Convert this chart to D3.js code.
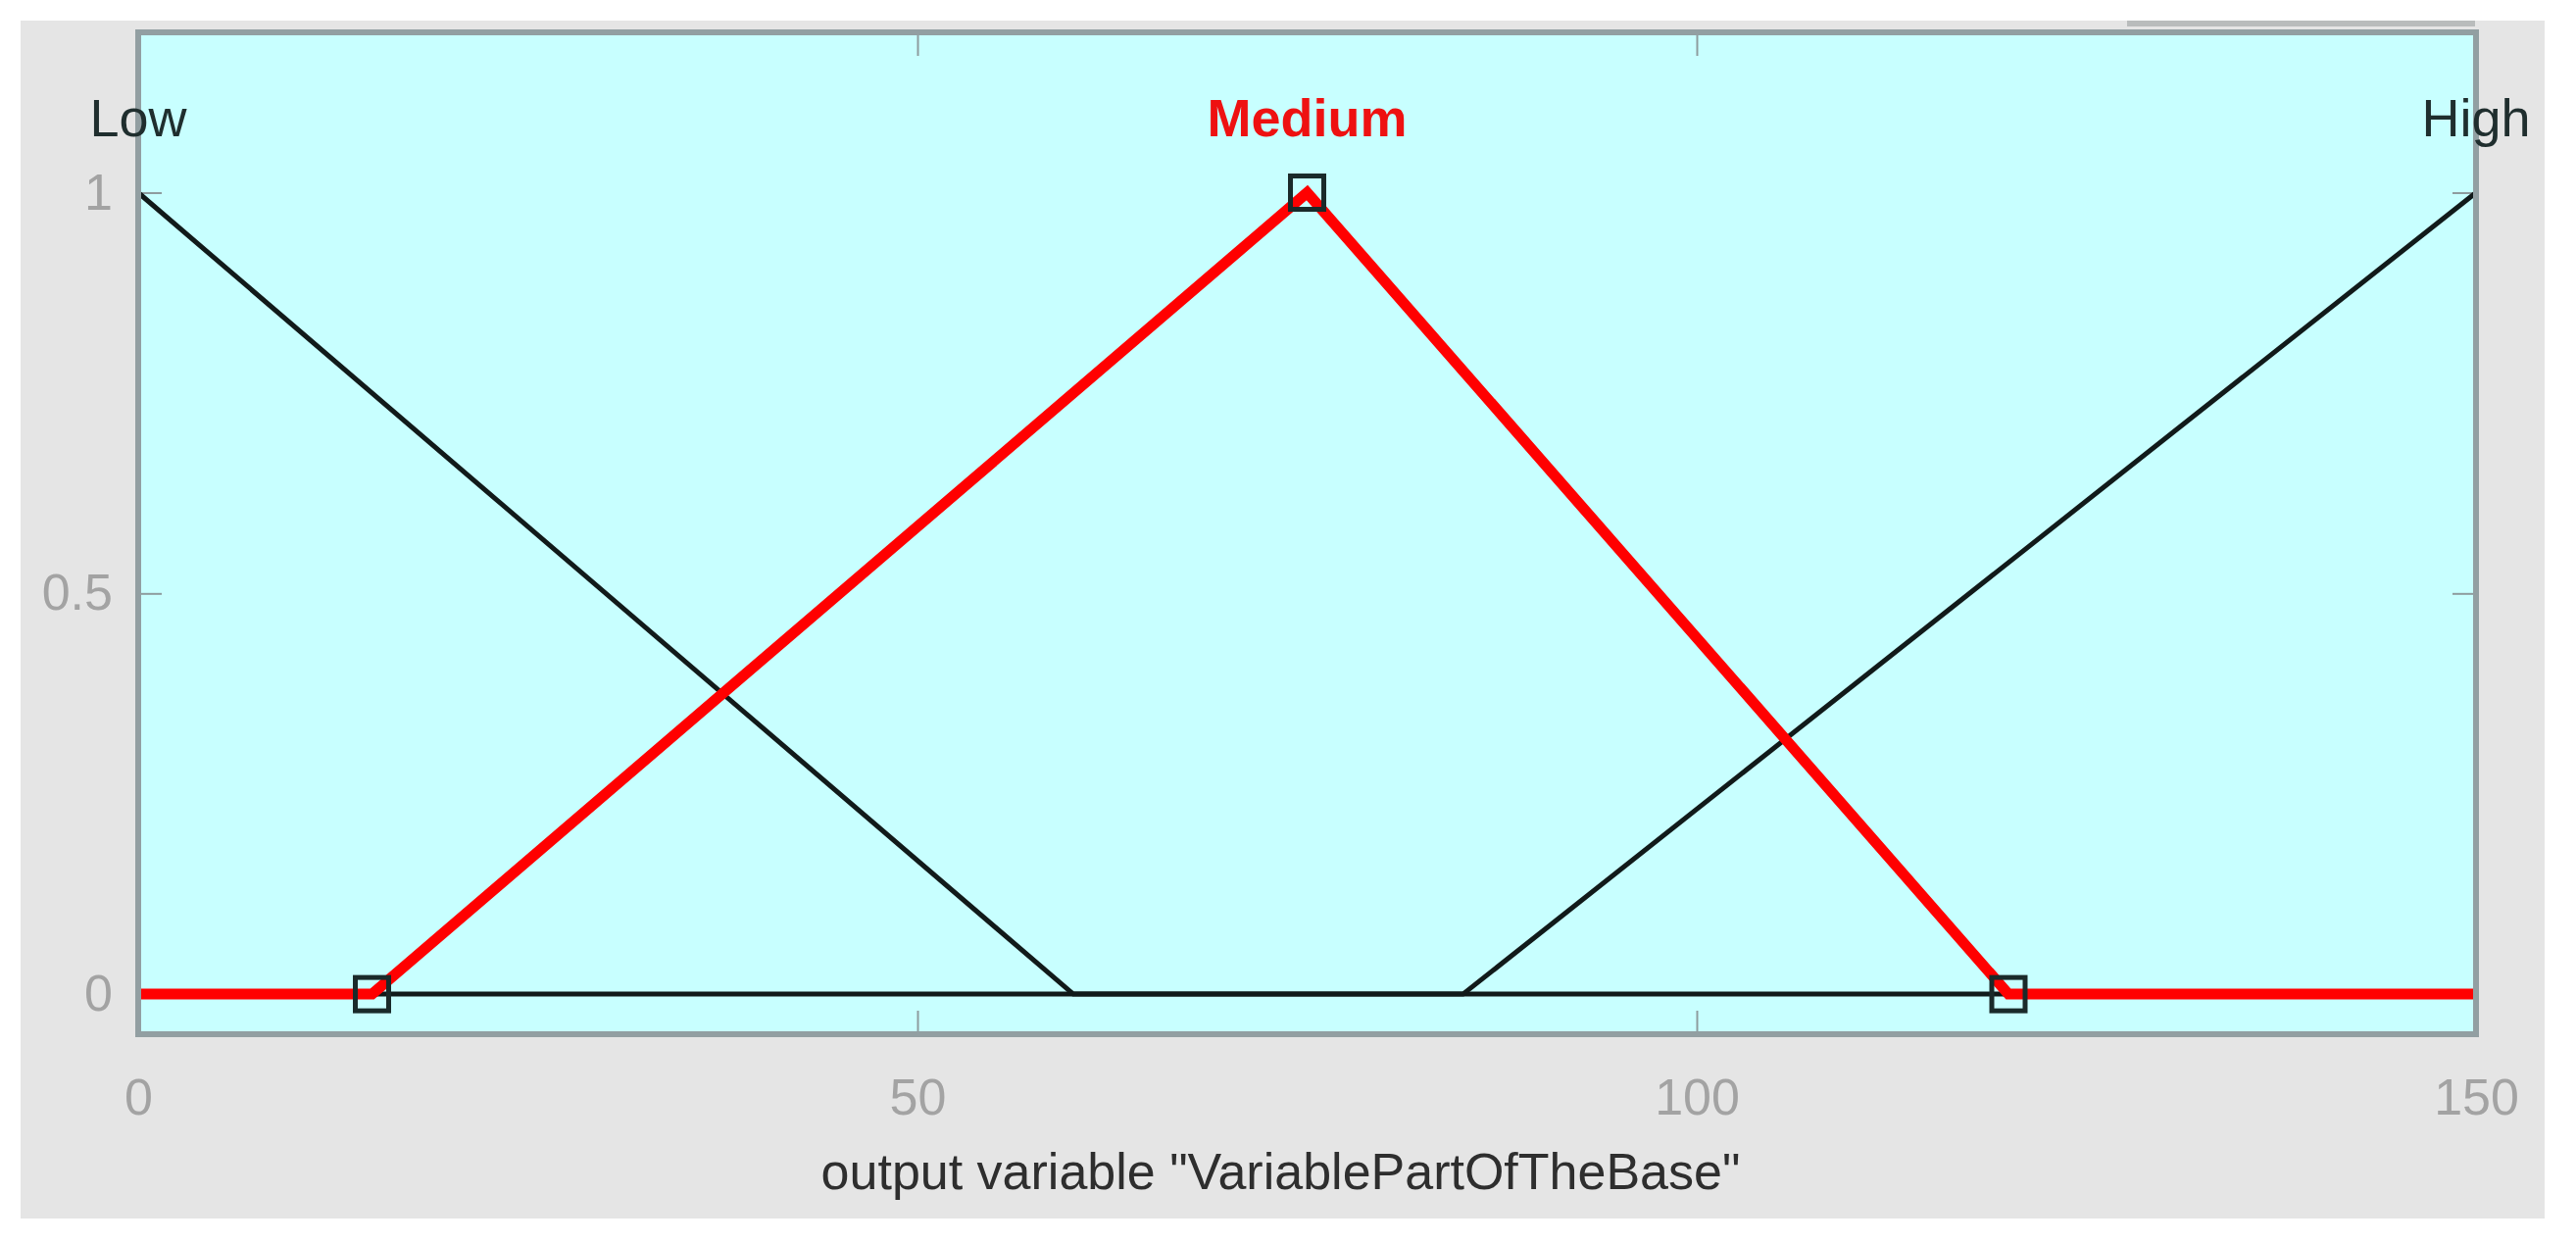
<!DOCTYPE html>
<html>
<head>
<meta charset="utf-8">
<script src="https://cdn.jsdelivr.net/npm/d3@7"></script>
<style>
  body { margin: 0; background: #fff; }
  text { font-family: "Liberation Sans", Arial, sans-serif; }
</style>
</head>
<body>
<svg id="chart" width="2628" height="1269"></svg>
<script>
// membership functions of output variable "VariablePartOfTheBase"
const mfNames = ["Low", "Medium", "High"];
const mfPeaks = [0, 75, 150];
const lowX = [0, 60, 150];
const lowY = [1, 0, 0];
const highX = [0, 85, 150];
const highY = [0, 0, 1];
const mediumX = [0, 15, 75, 120, 150];
const mediumY = [0, 0, 1, 0, 0];
const mediumParams = [15, 75, 120];
const mediumParamY = [0, 1, 0];
const xTicks = [0, 50, 100, 150];
const yTicks = [0, 0.5, 1];
const xLabel = 'output variable "VariablePartOfTheBase"';

const svg = d3.select("#chart");
const plot = { left: 141, right: 2526, top: 33, bottom: 1055 };

const x = d3.scaleLinear().domain([0, 150]).range([plot.left, plot.right]);
const y = d3.scaleLinear().domain([-0.05, 1.2]).range([plot.bottom, plot.top]);

// figure background
svg.append("rect")
    .attr("x", 21).attr("y", 21)
    .attr("width", 2575).attr("height", 1222)
    .attr("fill", "#e5e5e5");

// little strip at the top (ui leftover)
svg.append("rect")
    .attr("x", 2170).attr("y", 21)
    .attr("width", 355).attr("height", 6)
    .attr("fill", "#b9bcbc");

// axes area
svg.append("rect")
    .attr("x", plot.left).attr("y", plot.top)
    .attr("width", plot.right - plot.left).attr("height", plot.bottom - plot.top)
    .attr("fill", "#c8ffff");

const tickLen = 24;

const styleAxis = (g) => {
    g.select(".domain").remove();
    g.selectAll(".tick line").attr("stroke", "#8e9c9e").attr("stroke-width", 2);
    g.selectAll(".tick text")
        .attr("fill", "#a3a3a3")
        .style("font-size", "52px")
        .style("font-family", "'Liberation Sans', Arial, sans-serif");
};

svg.append("g")
    .attr("transform", `translate(0,${plot.bottom})`)
    .call(d3.axisBottom(x).tickValues(xTicks).tickSize(-tickLen).tickPadding(45).tickFormat(d3.format("")))
    .call(styleAxis);

svg.append("g")
    .attr("transform", `translate(0,${plot.top})`)
    .call(d3.axisTop(x).tickValues(xTicks).tickSize(-tickLen).tickFormat(""))
    .call(styleAxis);

svg.append("g")
    .attr("transform", `translate(${plot.left},0)`)
    .call(d3.axisLeft(y).tickValues(yTicks).tickSize(-tickLen).tickPadding(26).tickFormat(d3.format("")))
    .call(styleAxis);

svg.append("g")
    .attr("transform", `translate(${plot.right},0)`)
    .call(d3.axisRight(y).tickValues(yTicks).tickSize(-tickLen).tickFormat(""))
    .call(styleAxis);

const line = d3.line().x(d => x(d[0])).y(d => y(d[1]));

// black functions
[[lowX, lowY], [highX, highY]].forEach(([xs, ys]) => {
    svg.append("path")
        .datum(xs.map((v, i) => [v, ys[i]]))
        .attr("d", line)
        .attr("fill", "none")
        .attr("stroke", "#111a1a")
        .attr("stroke-width", 5);
});

// selected function in red
svg.append("path")
    .datum(mediumX.map((v, i) => [v, mediumY[i]]))
    .attr("d", line)
    .attr("fill", "none")
    .attr("stroke", "#ff0000")
    .attr("stroke-width", 11)
    .attr("stroke-linejoin", "miter");

// parameter markers
const sq = 34;
svg.selectAll(".marker")
    .data(mediumParams.map((v, i) => [v, mediumParamY[i]]))
    .enter().append("rect")
    .attr("class", "marker")
    .attr("x", d => x(d[0]) - sq / 2)
    .attr("y", d => y(d[1]) - sq / 2)
    .attr("width", sq).attr("height", sq)
    .attr("fill", "none")
    .attr("stroke", "#1a2a2a")
    .attr("stroke-width", 5);

// plot border
svg.append("rect")
    .attr("x", plot.left).attr("y", plot.top)
    .attr("width", plot.right - plot.left).attr("height", plot.bottom - plot.top)
    .attr("fill", "none")
    .attr("stroke", "#929fa2")
    .attr("stroke-width", 6);

// function names
svg.selectAll(".mf-name")
    .data(mfNames)
    .enter().append("text")
    .attr("class", "mf-name")
    .attr("x", (d, i) => x(mfPeaks[i]))
    .attr("y", y(1.07))
    .attr("text-anchor", "middle")
    .style("font-size", "54px")
    .style("font-weight", d => d === "Medium" ? "bold" : "normal")
    .attr("fill", d => d === "Medium" ? "#ee1111" : "#1f2e2e")
    .text(d => d);

// axis label
svg.append("text")
    .attr("x", (plot.left + plot.right) / 2 - 27)
    .attr("y", 1213)
    .attr("text-anchor", "middle")
    .style("font-size", "52px")
    .attr("fill", "#2e2e2e")
    .text(xLabel);
</script>
</body>
</html>
